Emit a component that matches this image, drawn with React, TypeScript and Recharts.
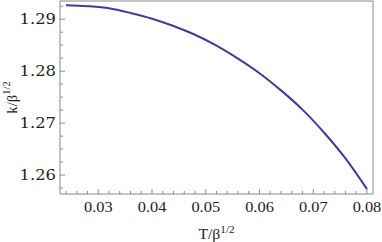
import React from "react";
import { LineChart, Line, XAxis, YAxis } from "recharts";

const tValues = [0.024, 0.028, 0.032, 0.036, 0.04, 0.044, 0.048, 0.052, 0.056, 0.06, 0.064, 0.068, 0.072, 0.076, 0.08];
const kValues = [1.2927, 1.2925, 1.2921, 1.2912, 1.2901, 1.2887, 1.287, 1.2849, 1.2824, 1.2796, 1.2763, 1.2726, 1.2682, 1.2632, 1.2573];

const xMajorTicks = [0.03, 0.04, 0.05, 0.06, 0.07, 0.08];
const xMinorTicks = [0.024, 0.026, 0.028, 0.032, 0.034, 0.036, 0.038, 0.042, 0.044, 0.046, 0.048, 0.052, 0.054, 0.056, 0.058, 0.062, 0.064, 0.066, 0.068, 0.072, 0.074, 0.076, 0.078];
const yMajorTicks = [1.26, 1.27, 1.28, 1.29];
const yMinorTicks = [1.2575, 1.2625, 1.265, 1.2675, 1.2725, 1.275, 1.2775, 1.2825, 1.285, 1.2875, 1.2925];

const xTickLabels = ["0.03", "0.04", "0.05", "0.06", "0.07", "0.08"];
const yTickLabels = ["1.26", "1.27", "1.28", "1.29"];

const data = tValues.map((t, i) => ({ t, k: kValues[i] }));

const FRAME = "#8a8a8a";
const TEXT = "#222";
const SX = 1.17;

const isMajor = (v: number, list: number[]) => list.findIndex((m) => Math.abs(m - v) < 1e-9);

const XTick = (props: any) => {
  const { x, y, payload } = props;
  const idx = isMajor(payload.value, xMajorTicks);
  const len = idx >= 0 ? 5 : 3;
  return (
    <g>
      <line x1={x} y1={y} x2={x} y2={y - len} stroke={FRAME} strokeWidth={1} />
      {idx >= 0 && (
        <text
          transform={`translate(${x}, ${y + 18}) scale(${SX}, 1)`}
          textAnchor="middle"
          fontFamily="Liberation Serif"
          fontSize={14}
          fill={TEXT}
        >
          {xTickLabels[idx]}
        </text>
      )}
    </g>
  );
};

const YTick = (props: any) => {
  const { x, y, payload } = props;
  const idx = isMajor(payload.value, yMajorTicks);
  const len = idx >= 0 ? 5 : 3;
  return (
    <g>
      <line x1={x} y1={y} x2={x + len} y2={y} stroke={FRAME} strokeWidth={1} />
      {idx >= 0 && (
        <text
          transform={`translate(${x - 4}, ${y + 5}) scale(${SX}, 1)`}
          textAnchor="end"
          fontFamily="DejaVu Serif"
          fontSize={14}
          fill={TEXT}
        >
          {yTickLabels[idx]}
        </text>
      )}
    </g>
  );
};

const XLabel = (props: any) => {
  const vb = props.viewBox || {};
  const cx = vb.x + vb.width / 2;
  return (
    <text
      transform={`translate(${cx}, 239) scale(1.12, 1)`}
      textAnchor="middle"
      fontFamily="Times New Roman"
      fontSize={14}
      fill={TEXT}
    >
      <tspan>T/β</tspan>
      <tspan fontSize={10} dy={-6}>1/2</tspan>
    </text>
  );
};

const YLabel = (props: any) => {
  const vb = props.viewBox || {};
  const cy = vb.y + vb.height / 2;
  const cx = 17;
  return (
    <text
      transform={`translate(${cx}, ${cy}) rotate(-90) scale(1.05, 1.1)`}
      textAnchor="middle"
      fontFamily="serif"
      fontSize={14}
      fill={TEXT}
    >
      <tspan>k/β</tspan>
      <tspan fontSize={10} dy={-6}>1/2</tspan>
    </text>
  );
};

export default function App() {
  return (
    <div style={{ position: "absolute", left: 0, top: 0, background: "#fff" }}>
      <LineChart width={382} height={242} data={data} margin={{ top: 0, right: 8, bottom: 0, left: 0 }}>
        <XAxis
          dataKey="t"
          type="number"
          domain={[0.02288, 0.08112]}
          ticks={[...xMajorTicks, ...xMinorTicks].sort((a, b) => a - b)}
          tick={<XTick />}
          tickLine={false}
          tickSize={0}
          tickMargin={0}
          interval={0}
          axisLine={{ stroke: FRAME }}
          height={48}
          label={<XLabel />}
          allowDataOverflow
        />
        <XAxis xAxisId="top" orientation="top" dataKey="t" type="number" domain={[0.02288, 0.08112]} tick={false} tickLine={false} axisLine={{ stroke: FRAME }} height={1} />
        <YAxis
          type="number"
          domain={[1.25636, 1.2935]}
          ticks={[...yMajorTicks, ...yMinorTicks].sort((a, b) => a - b)}
          tick={<YTick />}
          tickLine={false}
          tickSize={0}
          tickMargin={0}
          interval={0}
          axisLine={{ stroke: FRAME }}
          width={60}
          label={<YLabel />}
          allowDataOverflow
        />
        <YAxis yAxisId="right" orientation="right" type="number" domain={[1.25636, 1.2935]} tick={false} tickLine={false} axisLine={{ stroke: FRAME }} width={1} />
        <Line
          dataKey="k"
          type="monotone"
          stroke="#3d3d99"
          strokeWidth={2}
          dot={false}
          isAnimationActive={false}
        />
      </LineChart>
    </div>
  );
}
